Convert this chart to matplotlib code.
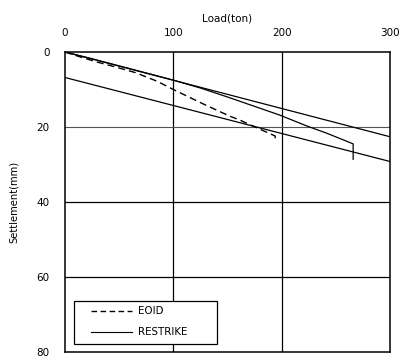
import matplotlib
matplotlib.use("Agg")
import numpy as np
import matplotlib.pyplot as plt
from matplotlib.lines import Line2D
from matplotlib.patches import Rectangle

plt.rcParams['font.family'] = ['DejaVu Sans']

# Data
eoid_load = [0, 15, 30, 48, 65, 85, 100, 125, 152, 161, 180, 194, 194]
eoid_settle = [0, 1.4, 2.7, 4.1, 5.5, 7.8, 10.0, 13.5, 17.1, 18.1, 20.6, 22.4, 23.6]

restrike_load = [0, 25, 50, 75, 100, 125, 150, 172, 198, 223, 242, 266, 266]
restrike_settle = [0, 1.8, 3.7, 5.6, 7.5, 9.6, 12.0, 14.2, 16.8, 19.7, 21.7, 24.5, 28.6]

elastic_load = [0, 300]
elastic_settle = [0, 22.6]
offset_load = [0, 300]
offset_settle = [6.8, 29.2]

x_ticks = [0, 100, 200, 300]
y_ticks = [0, 20, 40, 60, 80]
series_names = ['EOID', 'RESTRIKE']

W, H = 401, 356
fig = plt.figure(figsize=(W/100, H/100), dpi=100)
L, R, T, B = 65, 390, 52, 352
ax = fig.add_axes([L/W, 1-B/H, (R-L)/W, (B-T)/H])

ax.set_xlim(0, 300)
ax.set_ylim(80, 0)

# grid lines
for xv in [100, 200]:
    ax.axvline(xv, color='black', lw=0.9, zorder=1)
ax.axhline(20, color='#555555', lw=0.8, zorder=1)
for yv in [40, 60]:
    ax.axhline(yv, color='black', lw=0.9, zorder=1)

ax.plot(elastic_load, elastic_settle, color='black', lw=0.9, zorder=2)
ax.plot(offset_load, offset_settle, color='black', lw=0.9, zorder=2)
ax.plot(restrike_load, restrike_settle, color='black', lw=0.9, zorder=3)
ax.plot(eoid_load, eoid_settle, color='black', lw=1.0, ls=(0, (5, 3)), zorder=3)

ax.xaxis.tick_top()
ax.xaxis.set_label_position('top')
ax.set_xticks(x_ticks)
ax.set_yticks(y_ticks)
ax.tick_params(axis='x', length=0, pad=10, labelsize=7.5)
ax.tick_params(axis='y', length=0, pad=11, labelsize=7.5)
ax.set_xlabel('Load(ton)', fontsize=7.5, labelpad=5)
ax.set_ylabel('Settlement(mm)', fontsize=7.2, labelpad=13)

for s in ax.spines.values():
    s.set_linewidth(1.1)
    s.set_color('black')

# legend frame (axes fraction)
def px2ax(px, py):
    return (px - L) / (R - L), (B - py) / (B - T)

x0, y0 = px2ax(74, 344)
x1, y1 = px2ax(217, 301)
ax.add_patch(Rectangle((x0, y0), x1 - x0, y1 - y0, transform=ax.transAxes,
                       fill=True, facecolor='white', edgecolor='black',
                       lw=0.9, zorder=5))

handles = [Line2D([0], [0], color='black', lw=1.0, ls=(0, (4, 2.5))),
           Line2D([0], [0], color='black', lw=0.8)]
ax_leg_x, ax_leg_y = px2ax(91, 306.5)
leg = ax.legend(handles, series_names, loc='upper left',
                bbox_to_anchor=(ax_leg_x, ax_leg_y),
                frameon=False, fontsize=7.4, handlelength=4.0, borderpad=0,
                labelspacing=1.05, handletextpad=0.6, borderaxespad=0)
leg.set_zorder(6)

fig.savefig('out.png', dpi=100)
